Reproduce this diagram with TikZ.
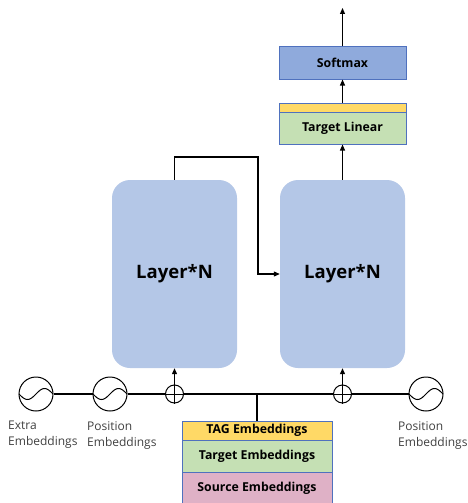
\documentclass[tikz,border=0pt]{standalone}
\usepackage{fontspec}
\setmainfont{Open Sans}
\usetikzlibrary{arrows.meta}
\definecolor{layerblue}{HTML}{B4C7E7}
\definecolor{boxborder}{HTML}{4F71BE}
\definecolor{smblue}{HTML}{8FAADC}
\definecolor{tagyellow}{HTML}{FFD966}
\definecolor{tgtgreen}{HTML}{C5E0B4}
\definecolor{srcpink}{HTML}{DFB1C6}
\definecolor{labelgray}{HTML}{404040}
\tikzset{
  arr/.style={line width=1.1pt, -{Triangle[length=6pt,width=5pt]}},
  conn/.style={line width=1.1pt},
  layerbox/.style={rectangle, rounded corners=18pt, fill=layerblue, draw=none,
    minimum width=125pt, minimum height=188pt, font=\bfseries\fontsize{18.5}{22}\selectfont},
  flatbox/.style={rectangle, draw=boxborder, line width=1pt, minimum width=127pt,
    font=\bfseries\fontsize{12.3}{14}\selectfont, inner sep=0pt},
  embbox/.style={rectangle, draw=boxborder, line width=1pt, minimum width=150pt,
    font=\bfseries\fontsize{12.3}{14}\selectfont, inner sep=0pt},
  sinecirc/.style={circle, draw, line width=1pt, minimum size=34pt, inner sep=0pt},
  pluscirc/.style={circle, draw, line width=1pt, minimum size=18pt, inner sep=0pt},
  lbl/.style={anchor=north west, inner sep=0pt, align=left, text=labelgray,
    font=\fontsize{12}{16}\selectfont},
}
\begin{document}
\begin{tikzpicture}[x=1pt,y=-1pt]
\useasboundingbox (0,0) rectangle (468,503);
% layer boxes
\node[layerbox] (L1) at (174.5,274) {Layer*N};
\node[layerbox] (L2) at (342.5,274) {Layer*N};
% top boxes
\node[flatbox, fill=tagyellow, minimum height=9pt] (TY) at (342.5,107.5) {};
\node[flatbox, fill=tgtgreen, minimum height=32pt] (TL) at (342.5,128) {Target Linear};
\node[flatbox, fill=smblue, minimum height=32pt] (SM) at (342.5,63) {Softmax};
\coordinate (out) at (342.5,8);
% embedding boxes
\node[embbox, fill=srcpink, minimum height=33pt] (SRC) at (257,488.5) {Source Embeddings};
\node[embbox, fill=tgtgreen, minimum height=32pt] (TGT) at (257,456) {Target Embeddings};
\node[embbox, fill=tagyellow, minimum height=19pt] (TAG) at (257,430.5) {TAG Embeddings};
% circles
\node[sinecirc] (E1) at (36,394) {};
\node[sinecirc] (P1) at (110,394) {};
\node[sinecirc] (P2) at (426,394) {};
\node[pluscirc] (A1) at (174.5,394) {};
\node[pluscirc] (A2) at (342.5,394) {};
\foreach \c in {E1,P1,P2}{
  \begin{scope}[shift={(\c.center)}]
    \draw[line width=1pt] plot[domain=-17:17, samples=40, smooth] (\x,{-5.5*sin(\x*180/17)});
  \end{scope}
}
\foreach \c in {A1,A2}{
  \draw[line width=1pt] (\c.west) -- (\c.east);
  \draw[line width=1pt] (\c.south) -- (\c.north);
}
\coordinate (J) at (257,394);
% connectors
\draw[conn] (E1) -- (P1);
\draw[conn] (P1) -- (A1);
\draw[conn] (A1) -- (A2);
\draw[conn] (A2) -- (P2);
\draw[conn] (J) -- (TAG.north);
\draw[arr] (A1.north) -- (L1.south);
\draw[arr] (A2.north) -- (L2.south);
\coordinate (c1) at (258,157);
\draw[arr] (L1.north) |- (c1) |- (L2.west);
\draw[arr] (L2.north) -- (TL.south);
\draw[arr] (TY.north) -- (SM.south);
\draw[arr] (SM.north) -- (out);
% labels
\node[lbl] (t1) at (8,421) {Extra\\Embeddings};
\node[lbl] (t2) at (87,421) {Position\\Embeddings};
\node[lbl] (t3) at (398,421) {Position\\Embeddings};
\end{tikzpicture}
\end{document}
